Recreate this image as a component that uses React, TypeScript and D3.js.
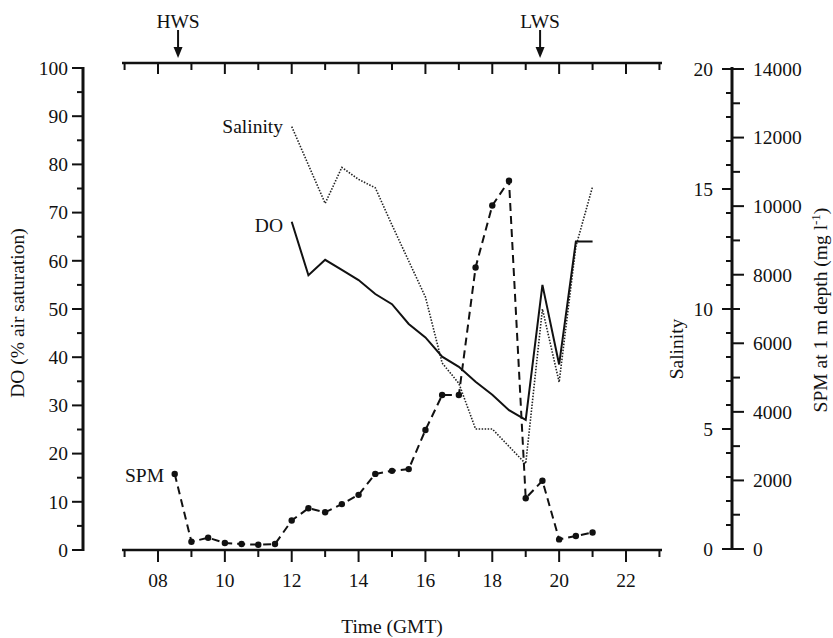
import React from "react";
import * as d3 from "d3";

const doTimes = [12, 12.5, 13, 13.5, 14, 14.5, 15, 15.5, 16, 16.5, 17, 17.5, 18, 18.5, 19, 19.5, 20, 20.5, 21];
const doValues = [68.1, 57.0, 60.2, 58.1, 56.0, 53.1, 51.0, 46.9, 44.1, 40.1, 38.0, 34.9, 32.2, 29.0, 27.0, 55.0, 38.5, 64.0, 64.0];

const salTimes = [12, 13, 13.5, 14, 14.5, 15, 15.5, 16, 16.5, 17, 17.5, 18, 19, 19.5, 20, 20.5, 21];
const salValues = [17.6, 14.4, 15.9, 15.4, 15.05, 13.5, 12.0, 10.5, 7.75, 6.9, 5.0, 5.0, 3.55, 10.0, 6.95, 12.6, 15.1];

const spmTimes = [8.5, 9, 9.5, 10, 10.5, 11, 11.5, 12, 12.5, 13, 13.5, 14, 14.5, 15, 15.5, 16, 16.5, 17, 17.5, 18, 18.5, 19, 19.5, 20, 20.5, 21];
const spmValues = [2190, 210, 330, 175, 145, 125, 145, 830, 1190, 1070, 1310, 1580, 2190, 2280, 2330, 3470, 4490, 4490, 8210, 10020, 10740, 1480, 1990, 280, 380, 480];

const doTicks = [0, 10, 20, 30, 40, 50, 60, 70, 80, 90, 100];
const salTicks = [0, 5, 10, 15, 20];
const spmTicks = [0, 2000, 4000, 6000, 8000, 10000, 12000, 14000];
const hourTicks = [8, 10, 12, 14, 16, 18, 20, 22];
const tideMarks = [
  { label: "HWS", t: 8.6 },
  { label: "LWS", t: 19.43 },
];

const FONT = "'Liberation Serif', 'Times New Roman', serif";
const FS = 19.5;

export default function App() {
  const x = d3.scaleLinear().domain([8, 22]).range([158, 626]);
  const yDO = d3.scaleLinear().domain([0, 100]).range([550, 68]);
  const ySal = d3.scaleLinear().domain([0, 20]).range([549, 69]);
  const ySpm = d3.scaleLinear().domain([0, 14000]).range([549, 69]);

  const doLine = d3.line<number>().x((_, i) => x(doTimes[i])).y((v) => yDO(v));
  const salLine = d3.line<number>().x((_, i) => x(salTimes[i])).y((v) => ySal(v));
  const spmLine = d3.line<number>().x((_, i) => x(spmTimes[i])).y((v) => ySpm(v));

  const allHours = d3.range(7, 24);
  const doMinor = d3.range(0, 101, 5);
  const salMinor = d3.range(0, 21, 1);
  const spmMinor = d3.range(0, 14001, 1000);

  const xLeft = 83;
  const xRight = 732;
  const yTop = 63;
  const yBottom = 550;

  return (
    <svg width={833} height={638} style={{ position: "absolute", left: 0, top: 0 }} fontFamily={FONT} fontSize={FS}>
      <rect x={0} y={0} width={833} height={638} fill="#fff" />
      {/* left DO axis */}
      <line x1={xLeft} x2={xLeft} y1={yDO(100) - 1} y2={yDO(0) + 1} stroke="#111" strokeWidth={3} />
      {doMinor.map((v) => (
        <line key={"dm" + v} x1={xLeft} x2={xLeft - (v % 10 === 0 ? 11 : 6)} y1={yDO(v)} y2={yDO(v)} stroke="#111" strokeWidth={2} />
      ))}
      {doTicks.map((v) => (
        <text key={"dl" + v} x={68} y={yDO(v)} dy="0.35em" textAnchor="end" fill="#111">
          {v}
        </text>
      ))}
      <text transform={`translate(24,${313}) rotate(-90)`} textAnchor="middle" fill="#111">
        DO (% air saturation)
      </text>

      {/* bottom axis */}
      <line x1={122} x2={662} y1={yBottom} y2={yBottom} stroke="#111" strokeWidth={2.5} />
      {allHours.map((h) => (
        <line key={"bt" + h} x1={x(h)} x2={x(h)} y1={yBottom} y2={yBottom + (h % 2 === 0 ? 12 : 7)} stroke="#111" strokeWidth={2} />
      ))}
      {hourTicks.map((h) => (
        <text key={"bl" + h} x={x(h)} y={587} textAnchor="middle" fill="#111">
          {d3.format("02d")(h)}
        </text>
      ))}
      <text x={392} y={633} textAnchor="middle" fill="#111">
        Time (GMT)
      </text>

      {/* top axis */}
      <line x1={122} x2={662} y1={yTop} y2={yTop} stroke="#111" strokeWidth={2.5} />
      {allHours.map((h) => (
        <line key={"tt" + h} x1={x(h)} x2={x(h)} y1={yTop} y2={yTop + (h % 2 === 0 ? 11 : 7)} stroke="#111" strokeWidth={2} />
      ))}
      {tideMarks.map((m) => (
        <g key={m.label}>
          <text x={x(m.t)} y={28} textAnchor="middle" fill="#111">
            {m.label}
          </text>
          <line x1={x(m.t)} x2={x(m.t)} y1={30} y2={50} stroke="#111" strokeWidth={2} />
          <path d={`M${x(m.t) - 4.5},${47} L${x(m.t) + 4.5},${47} L${x(m.t)},${58} Z`} fill="#111" />
        </g>
      ))}

      {/* right axes */}
      <line x1={xRight} x2={xRight} y1={ySal(20) - 2} y2={ySal(0) + 1} stroke="#111" strokeWidth={3} />
      {salMinor.map((v) => (
        <line key={"sm" + v} x1={xRight} x2={xRight - (v % 5 === 0 ? 10 : 6)} y1={ySal(v)} y2={ySal(v)} stroke="#111" strokeWidth={2} />
      ))}
      {salTicks.map((v) => (
        <text key={"sl" + v} x={713} y={ySal(v)} dy="0.35em" textAnchor="end" fill="#111">
          {v}
        </text>
      ))}
      {spmMinor.map((v) => (
        <line key={"pm" + v} x1={xRight} x2={xRight + (v % 2000 === 0 ? 12 : 8)} y1={ySpm(v)} y2={ySpm(v)} stroke="#111" strokeWidth={2} />
      ))}
      {spmTicks.map((v) => (
        <text key={"pl" + v} x={753} y={ySpm(v)} dy="0.35em" textAnchor="start" fill="#111">
          {v}
        </text>
      ))}
      <text transform={`translate(683,${349}) rotate(-90)`} textAnchor="middle" fill="#111">
        Salinity
      </text>
      <text transform={`translate(827,${310}) rotate(-90)`} textAnchor="middle" fill="#111">
        SPM at 1 m depth (mg l
        <tspan dy="-7" fontSize={13}>-1</tspan>
        <tspan dy="7">)</tspan>
      </text>

      {/* series */}
      <path d={salLine(salValues) || ""} fill="none" stroke="#222" strokeWidth={1.6} strokeDasharray="1.5,1.5" />
      <path d={doLine(doValues) || ""} fill="none" stroke="#111" strokeWidth={2} />
      <path d={spmLine(spmValues) || ""} fill="none" stroke="#111" strokeWidth={2} strokeDasharray="8,5" />
      {spmValues.map((v, i) => (
        <circle key={"sp" + i} cx={x(spmTimes[i])} cy={ySpm(v)} r={3.2} fill="#111" />
      ))}

      {/* series labels */}
      <text x={283} y={133} textAnchor="end" fill="#111">Salinity</text>
      <text x={283} y={232} textAnchor="end" fill="#111">DO</text>
      <text x={164} y={482} textAnchor="end" fill="#111">SPM</text>
    </svg>
  );
}
